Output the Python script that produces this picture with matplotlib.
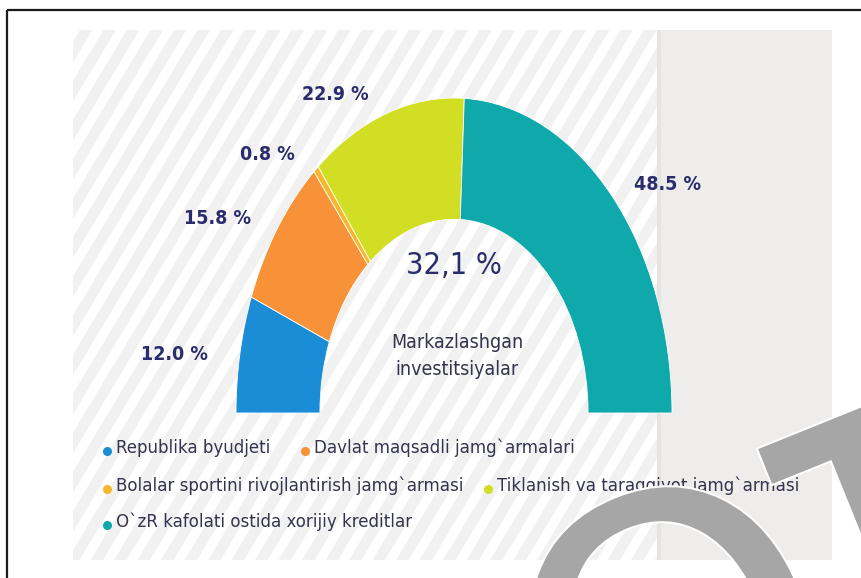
import matplotlib
matplotlib.use("Agg")
import matplotlib.pyplot as plt
from matplotlib.patches import Rectangle, Polygon
import matplotlib.patheffects as pe
import numpy as np

# ---- data ----
categories = [
    "Republika byudjeti",
    "Davlat maqsadli jamg`armalari",
    "Bolalar sportini rivojlantirish jamg`armasi",
    "Tiklanish va taraqqiyot jamg`armasi",
    "O`zR kafolati ostida xorijiy kreditlar",
]
values = [12.0, 15.8, 0.8, 22.9, 48.5]
value_labels = ["12.0 %", "15.8 %", "0.8 %", "22.9 %", "48.5 %"]
center_value = "32,1 %"
center_title = "Markazlashgan\ninvestitsiyalar"
colors = ["#1a8dd6", "#f79238", "#f9b62a", "#d2de24", "#0fa9ac"]

NARROW = ["DejaVu Sans"]
NAVY = "#2b2c6e"
TXT = "#34344e"

W, H = 861, 578
fig = plt.figure(figsize=(W / 100, H / 100), dpi=100)
fig.patch.set_facecolor("white")

bg = fig.add_axes([0, 0, 1, 1])
bg.set_xlim(0, W)
bg.set_ylim(H, 0)
bg.axis("off")

# striped panel
px0, py0, px1, py1 = 73, 30, 657, 560
panel = Rectangle((px0, py0), px1 - px0, py1 - py0, facecolor="white", edgecolor="none", zorder=1)
bg.add_patch(panel)
period, sw = 23.5, 12.5
shift = (py1 - py0) / np.tan(np.radians(59))
for k in range(-20, 40):
    xb = px0 + k * period - 6
    poly = Polygon([(xb, py1), (xb + sw, py1), (xb + sw + shift, py0), (xb + shift, py0)],
                   closed=True, facecolor="#f1f1f1", edgecolor="none", zorder=1.5)
    bg.add_patch(poly)
    poly.set_clip_path(panel)

# gray side panel
bg.add_patch(Rectangle((px1, py0), 832 - px1, py1 - py0, facecolor="#efedeb", edgecolor="none", zorder=1))
bg.add_patch(Rectangle((px1, py0), 4, py1 - py0, facecolor="#e6e4e2", edgecolor="none", zorder=1.2))

# frame lines
bg.plot([6.5, 6.5], [H, 9.5], color="#1a1a1a", lw=1.6, zorder=5, solid_capstyle="butt")
bg.plot([6.5, W], [9.5, 9.5], color="#1a1a1a", lw=1.6, zorder=5, solid_capstyle="butt")

# ---- half donut ----
ax = fig.add_axes([236 / W, 1 - 413 / H, 436 / W, 315 / H])
wedges, _ = ax.pie(values + [sum(values)], colors=colors + ["none"], startangle=180,
                   counterclock=False, radius=1,
                   wedgeprops=dict(width=0.385, edgecolor="white", linewidth=0.6))
wedges[-1].set_visible(False)
ax.set_aspect("auto")
ax.set_xlim(-1, 1)
ax.set_ylim(0, 1)
ax.axis("off")
ax.patch.set_alpha(0)

label_pos = [(174, 355), (218, 218), (267, 155), (335, 95), (668, 185)]
for (x, y), t in zip(label_pos, value_labels):
    bg.text(x, y, t, ha="center", va="center", fontsize=14, fontweight="bold",
            fontstretch="condensed", color=NAVY, family=NARROW, zorder=6)

bg.text(454, 266, center_value, ha="center", va="center", fontsize=22,
        fontstretch="condensed", color=NAVY, family=NARROW, zorder=6)
bg.text(457, 356, center_title, ha="center", va="center", fontsize=14,
        fontstretch="condensed", color=TXT, family=NARROW, linespacing=1.5, zorder=6)

leg_items = [(107, 448, 0), (305, 448, 1), (107, 486, 2), (488, 486, 3), (107, 522, 4)]
for x, y, i in leg_items:
    bg.plot([x], [y + 3], marker="o", ms=6.5, color=colors[i], mec="none", zorder=6)
    bg.text(x + 9, y, categories[i], ha="left", va="center", fontsize=13.3,
            fontstretch="condensed", color=TXT, family=NARROW, zorder=6)

# watermark
wm_fx = [pe.withStroke(linewidth=3, foreground="white")]
bg.text(580, 835, "O", ha="left", va="baseline", fontsize=290, color="#a6a6a6",
        family="DejaVu Sans", rotation=22, rotation_mode="anchor", zorder=7,
        path_effects=wm_fx)
bg.text(829, 628, "T", ha="left", va="baseline", fontsize=190, fontweight="bold",
        color="#a6a6a6", family="DejaVu Sans", rotation=22, rotation_mode="anchor",
        zorder=7, path_effects=wm_fx)

fig.savefig("out.png", dpi=100)
